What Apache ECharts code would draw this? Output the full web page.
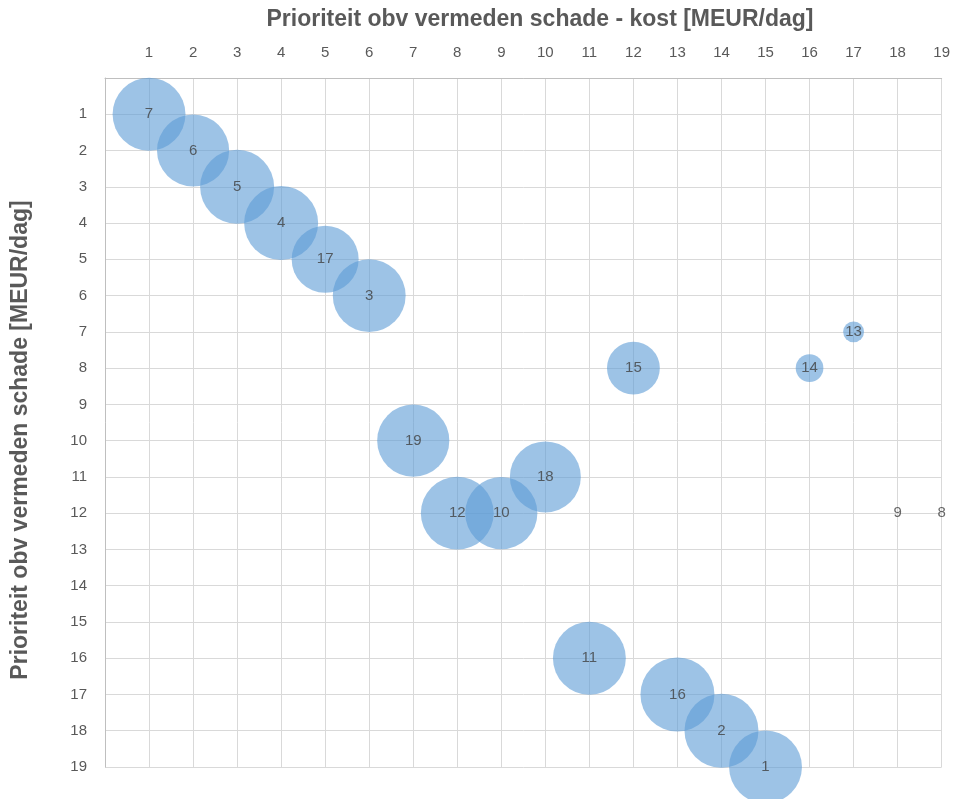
<!DOCTYPE html>
<html>
<head>
<meta charset="utf-8">
<script src="https://cdn.jsdelivr.net/npm/echarts@6/dist/echarts.min.js"></script>
<style>
html,body{margin:0;padding:0;background:#fff;}
#chart{width:953px;height:799px;}
</style>
</head>
<body>
<div id="chart"></div>
<script>
// Data
const ids      = [7, 6, 5, 4, 17, 3, 19, 12, 10, 18, 15, 14, 13, 9, 8, 11, 16, 2, 1];
const xKost    = [1, 2, 3, 4, 5, 6, 7, 8, 9, 10, 12, 16, 17, 18, 19, 11, 13, 14, 15];
const ySchade  = [1, 2, 3, 4, 5, 6, 10, 12, 12, 11, 8, 8, 7, 12, 12, 16, 17, 18, 19];
const bubbleVal= [9.7, 9.5, 10, 10, 8.2, 9.7, 9.5, 9.7, 9.5, 9.2, 5.1, 1.4, 0.8, 0, 0, 9.7, 10, 10, 9.7];
const tickLabels = ['1','2','3','4','5','6','7','8','9','10','11','12','13','14','15','16','17','18','19'];
const xTitle = 'Prioriteit obv vermeden schade - kost [MEUR/dag]';
const yTitle = 'Prioriteit obv vermeden schade [MEUR/dag]';

const maxVal = Math.max.apply(null, bubbleVal);
const data = ids.map((id, i) => ({ value: [xKost[i], ySchade[i], bubbleVal[i]], name: String(id) }));

const font = 'Liberation Sans, Arial, sans-serif';
const chart = echarts.init(document.getElementById('chart'), null, {renderer: 'canvas'});
chart.setOption({
  animation: false,
  backgroundColor: '#ffffff',
  grid: { left: 105, right: 10, top: 78, bottom: 32, containLabel: false },
  xAxis: {
    type: 'value', position: 'top', min: 0, max: 19, interval: 1,
    axisLine: { show: true, onZero: false, lineStyle: { color: '#bfbfbf', width: 1 } },
    axisTick: { show: false },
    axisLabel: { color: '#595959', fontSize: 15, fontFamily: font, margin: 18,
      formatter: v => (v >= 1 ? tickLabels[v - 1] : '') },
    splitLine: { show: true, lineStyle: { color: '#d9d9d9', width: 1 } }
  },
  yAxis: {
    type: 'value', inverse: true, min: 0, max: 19, interval: 1,
    axisLine: { show: true, onZero: false, lineStyle: { color: '#bfbfbf', width: 1 } },
    axisTick: { show: false },
    axisLabel: { color: '#595959', fontSize: 15, fontFamily: font, margin: 18,
      formatter: v => (v >= 1 ? tickLabels[v - 1] : '') },
    splitLine: { show: true, lineStyle: { color: '#d9d9d9', width: 1 } }
  },
  graphic: [
    { type: 'text', x: 540, y: 20,
      style: { text: xTitle, fill: '#595959', font: 'bold 23px ' + font,
        textAlign: 'center', textVerticalAlign: 'middle' } },
    { type: 'text', rotation: Math.PI / 2, x: 9, y: 440,
      style: { text: yTitle, fill: '#595959', font: 'bold 23px ' + font,
        textAlign: 'center', textVerticalAlign: 'top' } }
  ],
  series: [{
    type: 'scatter',
    clip: false,
    data: data,
    symbolSize: v => 74 * Math.sqrt(v[2] / maxVal),
    itemStyle: { color: 'rgba(91,155,213,0.75)' },
    label: { show: true, position: 'inside', formatter: p => p.name,
      color: '#404040', fontSize: 15, fontFamily: font },
    emphasis: { disabled: true }
  }]
});
</script>
</body>
</html>
